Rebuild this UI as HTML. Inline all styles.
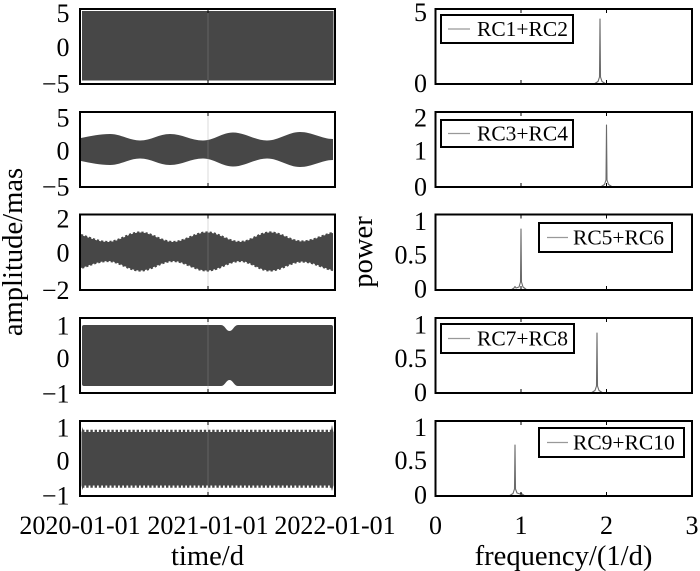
<!DOCTYPE html>
<html>
<head>
<meta charset="utf-8">
<style>
html,body{margin:0;padding:0;background:#fff;}
svg{display:block;}
text{font-family:"Liberation Serif","Times New Roman",serif;fill:#000;}
.tk{font-size:26px;}
.lb{font-size:28.6px;}
.lg{font-size:21.5px;}
</style>
</head>
<body>
<svg width="700" height="571" viewBox="0 0 700 571" xmlns="http://www.w3.org/2000/svg">
<rect x="0" y="0" width="700" height="571" fill="#fff"/>

<!-- ================= LEFT PANELS ================= -->
<!-- Panel 1 -->
<rect x="82" y="11" width="251.5" height="69.5" fill="#474747"/>
<!-- Panel 2 -->
<path fill="#474747" d="M81,138 C91,136 100,134 110,134 C121,134 129,140.5 140,140.5 C151,140.5 159,134 170,134 C182,134 191,140.5 203,140.5 C214,140.5 222,132.5 233,132.5 C245,132.5 255,140.5 267,140.5 C279,140.5 288,132 300,132 C312,132 322,139 333,139 L333,160 C322,160 312,167 300,167 C288,167 279,158.5 267,158.5 C255,158.5 245,166.5 233,166.5 C222,166.5 214,158.5 203,158.5 C191,158.5 182,165 170,165 C159,165 151,158.5 140,158.5 C129,158.5 121,165 110,165 C100,165 91,163 81,161 Z"/>
<!-- Panel 3 -->
<path fill="#474747" d="M81,235 C88,237 98,242 108,242 C119.5,242 128.5,232.5 140,232.5 C152,232.5 161,242 173,242 C185,242 195,232.5 207,232.5 C219,232.5 228,242 240,242 C251,242 259,232.5 270,232.5 C281.5,232.5 290.5,241.5 302,241.5 C313,241.5 325,234 333,233 L333,270 C325,269 313,261.5 302,261.5 C290.5,261.5 281.5,270.5 270,270.5 C259,270.5 251,261 240,261 C228,261 219,270.5 207,270.5 C195,270.5 185,261 173,261 C161,261 152,270.5 140,270.5 C128.5,270.5 119.5,261 108,261 C98,261 88,266 81,268 Z"/>
<path fill="none" stroke="#474747" stroke-width="2.2" stroke-dasharray="2.2 2" d="M81,235 C88,237 98,242 108,242 C119.5,242 128.5,232.5 140,232.5 C152,232.5 161,242 173,242 C185,242 195,232.5 207,232.5 C219,232.5 228,242 240,242 C251,242 259,232.5 270,232.5 C281.5,232.5 290.5,241.5 302,241.5 C313,241.5 325,234 333,233 M333,270 C325,269 313,261.5 302,261.5 C290.5,261.5 281.5,270.5 270,270.5 C259,270.5 251,261 240,261 C228,261 219,270.5 207,270.5 C195,270.5 185,261 173,261 C161,261 152,270.5 140,270.5 C128.5,270.5 119.5,261 108,261 C98,261 88,266 81,268"/>
<!-- Panel 4 -->
<path fill="#474747" d="M82,327 Q82,325 84,325 L221,325 C225,325 226,331 229.5,331 C233,331 234,325 238,325 L331,325 Q333,325 333,327 L333,384 Q333,386 331,386 L238,386 C234,386 233,380 229.5,380 C226,380 225,386 221,386 L84,386 Q82,386 82,384 Z"/>
<!-- Panel 5 -->
<rect x="81.5" y="432" width="252" height="53.5" fill="#474747"/>
<line x1="82" y1="431.5" x2="333" y2="431.5" stroke="#474747" stroke-width="3.4" stroke-dasharray="2.4 1.8"/>
<line x1="82" y1="486" x2="333" y2="486" stroke="#474747" stroke-width="3.4" stroke-dasharray="2.4 1.8"/>
<path fill="#474747" d="M81.5,433 L82.5,427 L84,433 Z M81.5,485 L82.5,490 L84,485 Z M330.5,433 L332,425 L333.5,433 Z M330.5,485 L332,491 L333.5,485 Z"/>

<!-- faint vertical line at 2021-01-01 -->
<g stroke="#999" stroke-opacity="0.35" stroke-width="1">
<line x1="208" y1="10" x2="208" y2="84"/>
<line x1="208" y1="113" x2="208" y2="187"/>
<line x1="208" y1="215.5" x2="208" y2="290"/>
<line x1="208" y1="319" x2="208" y2="393"/>
<line x1="208" y1="422" x2="208" y2="496"/>
</g>

<!-- left frames -->
<g fill="none" stroke="#000" stroke-width="2">
<rect x="80" y="9" width="255" height="75"/>
<rect x="80" y="112" width="255" height="75"/>
<rect x="80" y="214.5" width="255" height="75.5"/>
<rect x="80" y="318" width="255" height="75"/>
<rect x="80" y="421" width="255" height="75"/>
</g>
<!-- left ticks -->
<g stroke="#000" stroke-width="1">
<line x1="208" y1="10" x2="208" y2="13"/><line x1="208" y1="83" x2="208" y2="80"/>
<line x1="208" y1="113" x2="208" y2="116"/><line x1="208" y1="186" x2="208" y2="183"/>
<line x1="208" y1="215.5" x2="208" y2="218.5"/><line x1="208" y1="289" x2="208" y2="286"/>
<line x1="208" y1="319" x2="208" y2="322"/><line x1="208" y1="392" x2="208" y2="389"/>
<line x1="208" y1="422" x2="208" y2="425"/><line x1="208" y1="495" x2="208" y2="492"/>
</g>

<!-- left y tick labels -->
<g class="tk" text-anchor="end">
<text x="69.5" y="22.1">5</text><text x="69.5" y="56.1">0</text><text x="69.5" y="92.6">−5</text>
<text x="69.5" y="126.6">5</text><text x="69.5" y="159.6">0</text><text x="69.5" y="195.6">−5</text>
<text x="69.5" y="227.6">2</text><text x="69.5" y="261.6">0</text><text x="69.5" y="299.1">−2</text>
<text x="69.5" y="334.6">1</text><text x="69.5" y="367.1">0</text><text x="69.5" y="402.6">−1</text>
<text x="69.5" y="436.6">1</text><text x="69.5" y="469.6">0</text><text x="69.5" y="504.6">−1</text>
</g>
<!-- left x tick labels -->
<g class="tk" text-anchor="middle">
<text x="80" y="534">2020-01-01</text>
<text x="208" y="534">2021-01-01</text>
<text x="335" y="534">2022-01-01</text>
</g>
<text class="lb" x="207.5" y="565" text-anchor="middle">time/d</text>
<text class="lb" text-anchor="middle" transform="translate(22,252) rotate(-90)">amplitude/mas</text>

<!-- ================= RIGHT PANELS ================= -->
<g fill="none" stroke="#6a6a6a" stroke-width="1.1" stroke-linejoin="round">
<polyline points="594,84 598,81.5 599.5,77 600,19 600.5,77 602,81.5 606,84"/>
<polyline points="600.5,187 604.5,184.5 606,180 606.5,125 607,180 608.5,184.5 612.5,187"/>
<polyline points="511,290 514,288 515,286.5 516,288 519,287 520.5,282 521,229 521.5,282 523,287 527,290"/>
<polyline points="591,393 595,390.5 596.5,386 597,333 597.5,386 599,390.5 603,393"/>
<polyline points="509,496 513,493.5 514.5,489 515,445 515.5,489 517,493 520,494 521,492.5 522,494 525,496"/>
</g>

<!-- right frames -->
<g fill="none" stroke="#000" stroke-width="2">
<rect x="435.5" y="9" width="256.5" height="75"/>
<rect x="435.5" y="112" width="256.5" height="75"/>
<rect x="435.5" y="214.5" width="256.5" height="75.5"/>
<rect x="435.5" y="318" width="256.5" height="75"/>
<rect x="435.5" y="421" width="256.5" height="75"/>
</g>
<!-- right ticks -->
<g stroke="#000" stroke-width="1">
<line x1="521" y1="10" x2="521" y2="13"/><line x1="521" y1="83" x2="521" y2="80"/>
<line x1="606.5" y1="10" x2="606.5" y2="13"/><line x1="606.5" y1="83" x2="606.5" y2="80"/>
<line x1="521" y1="113" x2="521" y2="116"/><line x1="521" y1="186" x2="521" y2="183"/>
<line x1="606.5" y1="113" x2="606.5" y2="116"/><line x1="606.5" y1="186" x2="606.5" y2="183"/>
<line x1="521" y1="215.5" x2="521" y2="218.5"/><line x1="521" y1="289" x2="521" y2="286"/>
<line x1="606.5" y1="215.5" x2="606.5" y2="218.5"/><line x1="606.5" y1="289" x2="606.5" y2="286"/>
<line x1="521" y1="319" x2="521" y2="322"/><line x1="521" y1="392" x2="521" y2="389"/>
<line x1="606.5" y1="319" x2="606.5" y2="322"/><line x1="606.5" y1="392" x2="606.5" y2="389"/>
<line x1="521" y1="422" x2="521" y2="425"/><line x1="521" y1="495" x2="521" y2="492"/>
<line x1="606.5" y1="422" x2="606.5" y2="425"/><line x1="606.5" y1="495" x2="606.5" y2="492"/>
</g>

<!-- legends -->
<g fill="#fff" stroke="#000" stroke-width="2">
<rect x="441" y="15" width="132" height="28"/>
<rect x="441" y="120" width="132" height="27"/>
<rect x="539" y="223" width="133" height="29"/>
<rect x="441" y="324" width="133" height="29"/>
<rect x="539" y="428" width="145" height="29"/>
</g>
<g stroke="#999" stroke-width="1.2">
<line x1="448" y1="29" x2="470" y2="29"/>
<line x1="448" y1="133.5" x2="470" y2="133.5"/>
<line x1="547" y1="237.5" x2="568" y2="237.5"/>
<line x1="448" y1="338.5" x2="470" y2="338.5"/>
<line x1="547" y1="442.5" x2="568" y2="442.5"/>
</g>
<g class="lg">
<text x="477" y="36.2">RC1+RC2</text>
<text x="477" y="140.7">RC3+RC4</text>
<text x="573" y="244.7">RC5+RC6</text>
<text x="477" y="345.7">RC7+RC8</text>
<text x="573" y="449.7">RC9+RC10</text>
</g>

<!-- right y tick labels -->
<g class="tk" text-anchor="end">
<text x="427" y="21.1">5</text><text x="427" y="92.1">0</text>
<text x="427" y="126.6">2</text><text x="427" y="159.6">1</text><text x="427" y="195.6">0</text>
<text x="427" y="230.1">1</text><text x="427" y="263.6">0.5</text><text x="427" y="297.6">0</text>
<text x="427" y="333.6">1</text><text x="427" y="367.1">0.5</text><text x="427" y="401.1">0</text>
<text x="427" y="436.1">1</text><text x="427" y="469.1">0.5</text><text x="427" y="503.6">0</text>
</g>
<!-- right x tick labels -->
<g class="tk" text-anchor="middle">
<text x="435.5" y="534">0</text>
<text x="521" y="534">1</text>
<text x="606.5" y="534">2</text>
<text x="692" y="534">3</text>
</g>
<text class="lb" x="563.5" y="565" text-anchor="middle">frequency/(1/d)</text>
<text class="lb" text-anchor="middle" transform="translate(372,252) rotate(-90)">power</text>
</svg>
</body>
</html>
